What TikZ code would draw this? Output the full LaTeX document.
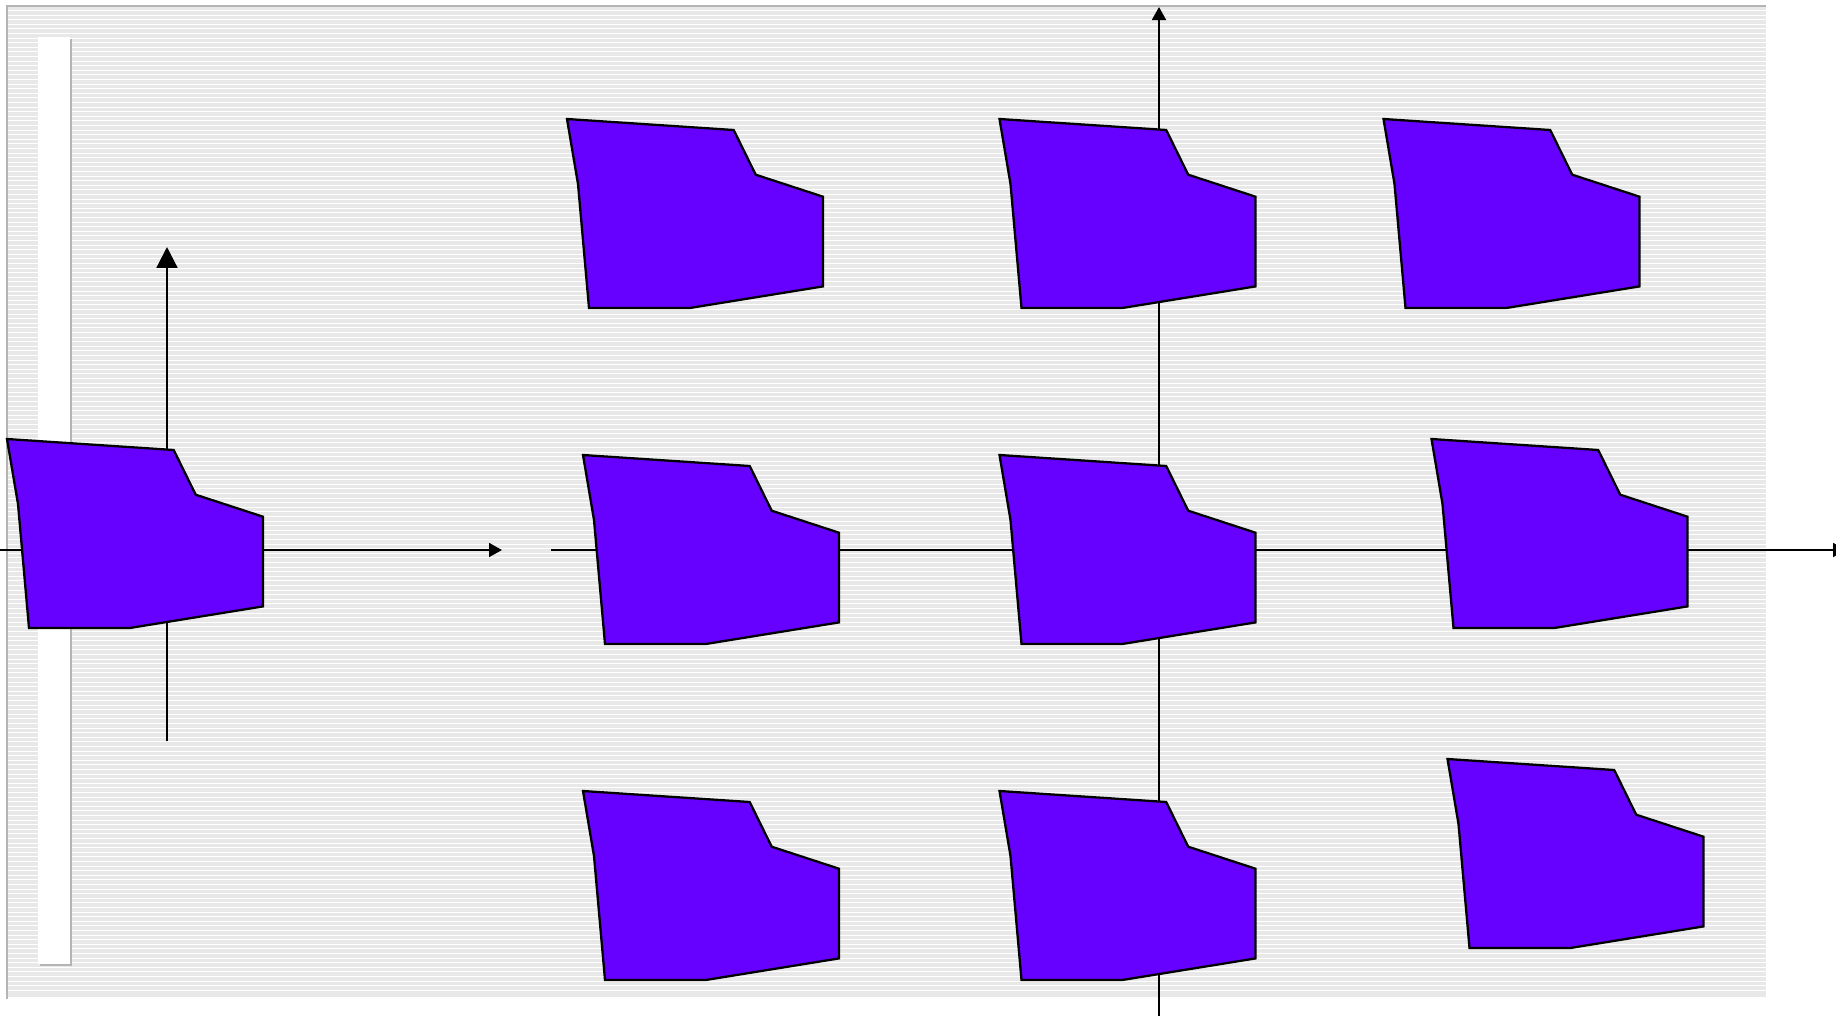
\documentclass[tikz,border=0pt]{standalone}
\usepackage{tikz}
\usepackage{xcolor}
\usetikzlibrary{arrows.meta}

\definecolor{piecefill}{HTML}{6600FF}
\definecolor{bandgray}{HTML}{E8E8E8}
\definecolor{framegray}{HTML}{B4B4B4}

\begin{document}
\begin{tikzpicture}[
    x=0.02cm, y=-0.02cm,
    piece/.style={draw=black, fill=piecefill, line width=1.3pt, line join=miter},
    axis/.style={line width=1.25pt, -{Triangle[length=7.4pt, width=7.9pt]}},
    bigaxis/.style={line width=1.25pt, -{Triangle[length=11.9pt, width=11.9pt]}},
    frame/.style={draw=framegray, line width=1.3pt}
]

\useasboundingbox (0,0) rectangle (1836,1015);
\clip (0,0) rectangle (1836,1015);

% ---- Striped panel ----
\fill[bandgray] (7,6) rectangle (1766,997);
\foreach \k in {0,...,213}
    \fill[white] (7,{10+4.6*\k}) rectangle (1766,{11+4.6*\k});
\draw[frame] (7.3,999) -- (7.3,6) -- (1766,6);

% ---- White bar ----
\fill[white] (38,37) rectangle (70,964);
\draw[frame, line width=1.1pt] (71,39) -- (71,966);
\draw[frame, line width=1.1pt] (40,965.3) -- (72,965.3);

% ======== Axes ========
\coordinate (lx0) at (0,550);
\coordinate (lx1) at (502,550);
\coordinate (ly0) at (167,741);
\coordinate (ly1) at (167,247);
\coordinate (rx0) at (551,550);
\coordinate (rx1) at (1846,550);
\coordinate (ry0) at (1159,1020);
\coordinate (ry1) at (1159,7);

\draw[axis]    (lx0) -- (lx1);
\draw[bigaxis] (ly0) -- (ly1);
\draw[axis]    (rx0) -- (rx1);
\draw[axis]    (ry0) -- (ry1);

% ======== Shapes ========
\foreach \px/\py in {7/439, 567/119, 999.5/119, 1383.5/119,
                     583/455, 999.5/455, 1431.5/439,
                     583/791, 999.5/791, 1447.5/759}
    \draw[piece, shift={(\px,\py)}] (0,0) -- (166.7,11) -- (188.7,55.7)
        -- (256,77.7) -- (256,167.4) -- (122.7,189) -- (22,189) -- (11,65) -- cycle;

\end{tikzpicture}
\end{document}
